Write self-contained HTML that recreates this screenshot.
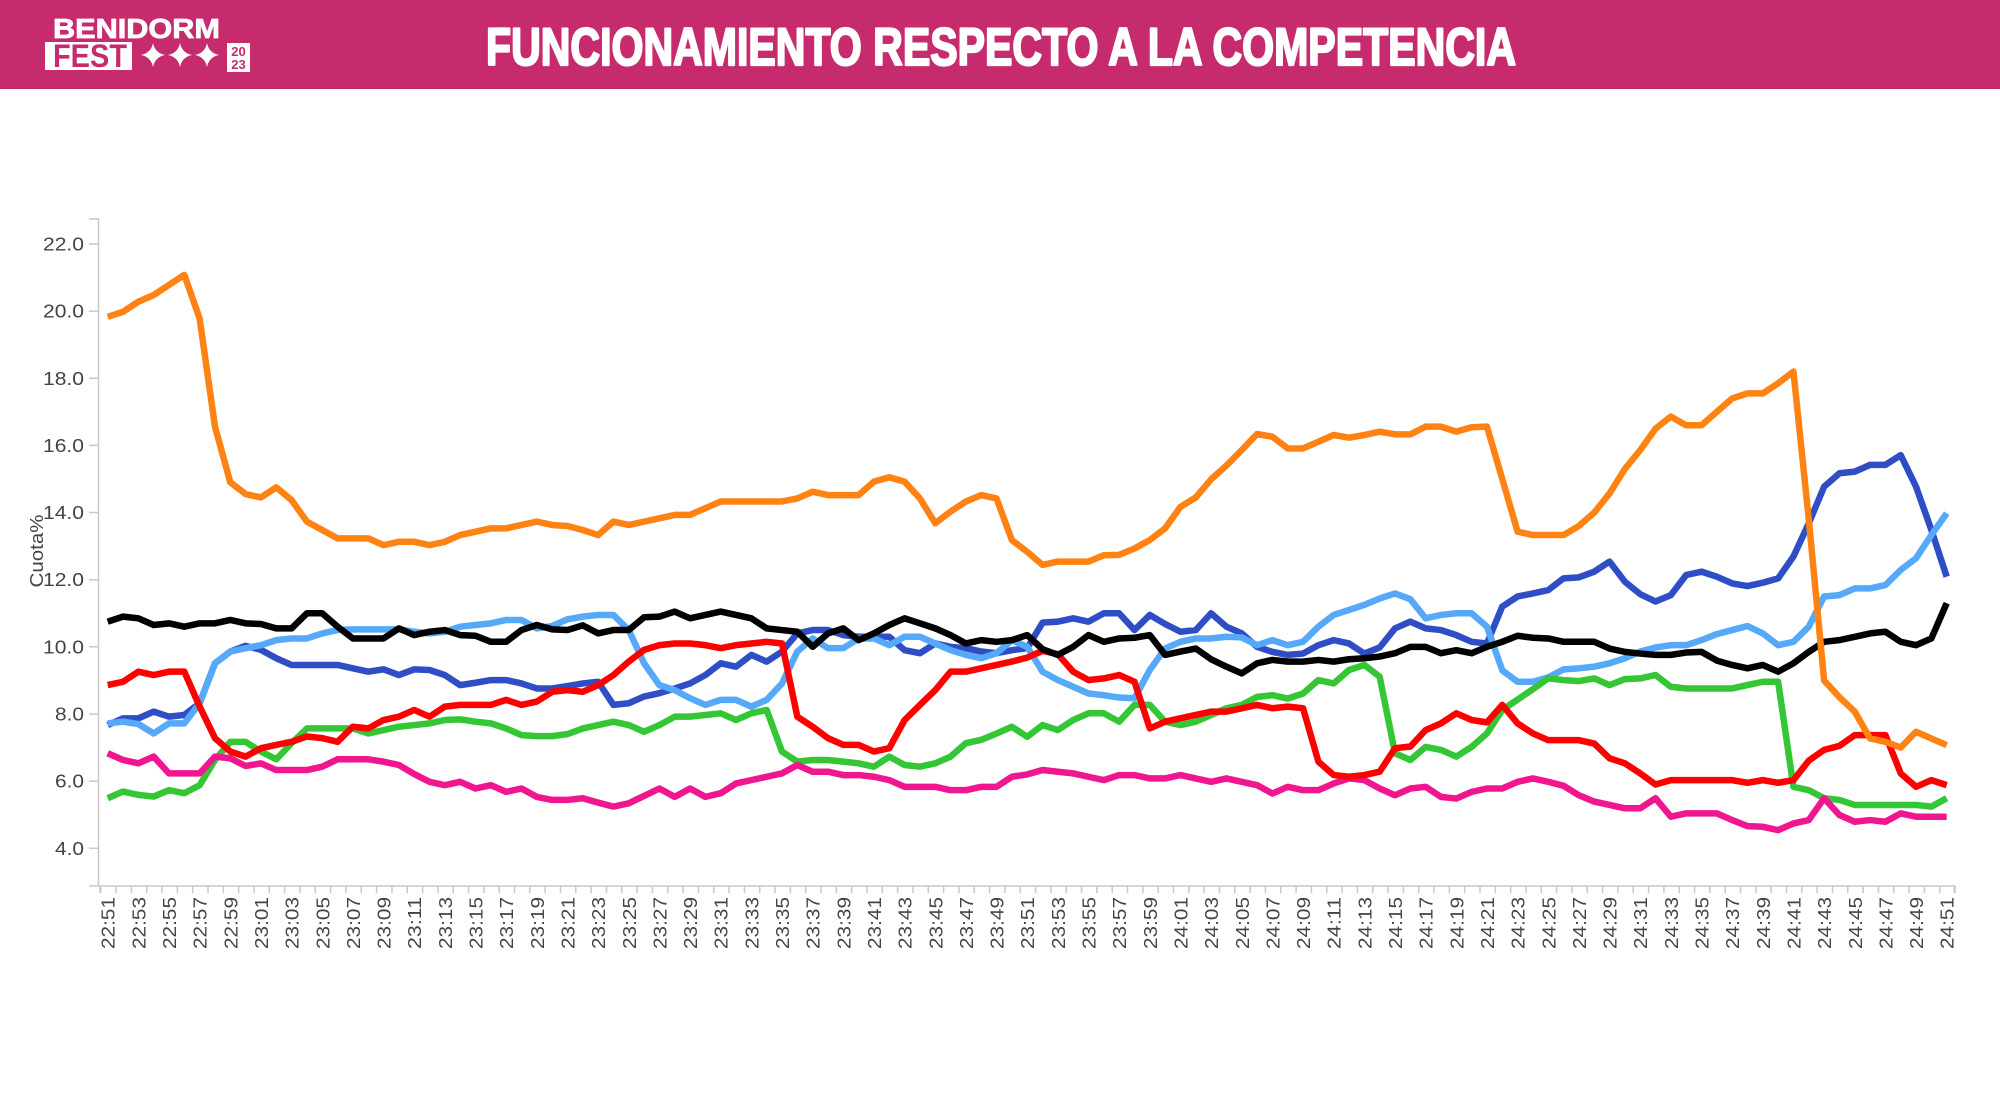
<!DOCTYPE html>
<html>
<head>
<meta charset="utf-8">
<style>
  html,body{margin:0;padding:0;background:#fff;}
  body{width:2000px;height:1100px;overflow:hidden;}
  svg{display:block;}
  .lab{font-family:"Liberation Sans",Arial,sans-serif;font-size:18px;fill:#444;}
  .ser{fill:none;stroke-width:6.5;stroke-linejoin:round;stroke-linecap:butt;}
</style>
</head>
<body>
<svg width="2000" height="1100" viewBox="0 0 2000 1100" xmlns="http://www.w3.org/2000/svg">
  <!-- Banner -->
  <rect x="0" y="0" width="2000" height="89" fill="#C62B6E"/>
  <!-- Logo -->
  <text x="53" y="38" fill="#fff" stroke="#fff" stroke-width="0.8" font-family="Liberation Sans, Arial, sans-serif" font-weight="bold" font-size="28" textLength="167" lengthAdjust="spacingAndGlyphs">BENIDORM</text>
  <rect x="45" y="42" width="87" height="28" fill="#fff"/>
  <text x="53" y="67" fill="#C62B6E" font-family="Liberation Sans, Arial, sans-serif" font-weight="bold" font-size="32" textLength="74" lengthAdjust="spacingAndGlyphs">FEST</text>
  <g fill="#fff">
    <path d="M153,43 Q155,53 165,55 Q155,57 153,67 Q151,57 141,55 Q151,53 153,43 Z"/>
    <path d="M180,43 Q182,53 192,55 Q182,57 180,67 Q178,57 168,55 Q178,53 180,43 Z"/>
    <path d="M207,43 Q209,53 219,55 Q209,57 207,67 Q205,57 195,55 Q205,53 207,43 Z"/>
  </g>
  <rect x="227" y="43" width="23" height="29" fill="#fff"/>
  <text x="238.5" y="56" text-anchor="middle" fill="#C62B6E" font-family="Liberation Sans, Arial, sans-serif" font-weight="bold" font-size="13">20</text>
  <text x="238.5" y="69" text-anchor="middle" fill="#C62B6E" font-family="Liberation Sans, Arial, sans-serif" font-weight="bold" font-size="13">23</text>
  <!-- Title -->
  <text x="486" y="65" fill="#fff" stroke="#fff" stroke-width="2.2" stroke-linejoin="round" font-family="Liberation Sans, Arial, sans-serif" font-weight="bold" font-size="53" textLength="1030" lengthAdjust="spacingAndGlyphs">FUNCIONAMIENTO RESPECTO A LA COMPETENCIA</text>

  <!-- Axes -->
  <g stroke="#C8C8C8" stroke-width="1.5" fill="none">
    <path d="M89,219 H98.5 V886 H89"/>
    <path d="M100,893 V886 H1954.3 V893"/>
    <path d="M89,244 H98.5 M89,311.1 H98.5 M89,378.3 H98.5 M89,445.4 H98.5 M89,512.5 H98.5 M89,579.7 H98.5 M89,646.8 H98.5 M89,714 H98.5 M89,781.1 H98.5 M89,848.3 H98.5"/>
    <path d="M100,889.5 H1956" stroke-width="7" stroke-dasharray="1.5 13.825"/>
  </g>

  <!-- Y labels -->
  <g class="lab" text-anchor="end">
    <text x="84" y="250.5" textLength="41" lengthAdjust="spacingAndGlyphs">22.0</text>
    <text x="84" y="317.6" textLength="41" lengthAdjust="spacingAndGlyphs">20.0</text>
    <text x="84" y="384.8" textLength="41" lengthAdjust="spacingAndGlyphs">18.0</text>
    <text x="84" y="451.9" textLength="41" lengthAdjust="spacingAndGlyphs">16.0</text>
    <text x="84" y="519" textLength="41" lengthAdjust="spacingAndGlyphs">14.0</text>
    <text x="84" y="586.2" textLength="41" lengthAdjust="spacingAndGlyphs">12.0</text>
    <text x="84" y="653.3" textLength="41" lengthAdjust="spacingAndGlyphs">10.0</text>
    <text x="84" y="720.5" textLength="29" lengthAdjust="spacingAndGlyphs">8.0</text>
    <text x="84" y="787.6" textLength="29" lengthAdjust="spacingAndGlyphs">6.0</text>
    <text x="84" y="854.8" textLength="29" lengthAdjust="spacingAndGlyphs">4.0</text>
  </g>
  <text class="lab" transform="translate(43,551) rotate(-90)" text-anchor="middle" textLength="73" lengthAdjust="spacingAndGlyphs">Cuota%</text>

  <!-- X labels -->
  <g class="lab" text-anchor="end">
    <text transform="translate(114.7,897) rotate(-90)" textLength="52" lengthAdjust="spacingAndGlyphs">22:51</text>
    <text transform="translate(145.35,897) rotate(-90)" textLength="52" lengthAdjust="spacingAndGlyphs">22:53</text>
    <text transform="translate(176,897) rotate(-90)" textLength="52" lengthAdjust="spacingAndGlyphs">22:55</text>
    <text transform="translate(206.65,897) rotate(-90)" textLength="52" lengthAdjust="spacingAndGlyphs">22:57</text>
    <text transform="translate(237.3,897) rotate(-90)" textLength="52" lengthAdjust="spacingAndGlyphs">22:59</text>
    <text transform="translate(267.95,897) rotate(-90)" textLength="52" lengthAdjust="spacingAndGlyphs">23:01</text>
    <text transform="translate(298.6,897) rotate(-90)" textLength="52" lengthAdjust="spacingAndGlyphs">23:03</text>
    <text transform="translate(329.25,897) rotate(-90)" textLength="52" lengthAdjust="spacingAndGlyphs">23:05</text>
    <text transform="translate(359.9,897) rotate(-90)" textLength="52" lengthAdjust="spacingAndGlyphs">23:07</text>
    <text transform="translate(390.55,897) rotate(-90)" textLength="52" lengthAdjust="spacingAndGlyphs">23:09</text>
    <text transform="translate(421.2,897) rotate(-90)" textLength="52" lengthAdjust="spacingAndGlyphs">23:11</text>
    <text transform="translate(451.85,897) rotate(-90)" textLength="52" lengthAdjust="spacingAndGlyphs">23:13</text>
    <text transform="translate(482.5,897) rotate(-90)" textLength="52" lengthAdjust="spacingAndGlyphs">23:15</text>
    <text transform="translate(513.15,897) rotate(-90)" textLength="52" lengthAdjust="spacingAndGlyphs">23:17</text>
    <text transform="translate(543.8,897) rotate(-90)" textLength="52" lengthAdjust="spacingAndGlyphs">23:19</text>
    <text transform="translate(574.45,897) rotate(-90)" textLength="52" lengthAdjust="spacingAndGlyphs">23:21</text>
    <text transform="translate(605.1,897) rotate(-90)" textLength="52" lengthAdjust="spacingAndGlyphs">23:23</text>
    <text transform="translate(635.75,897) rotate(-90)" textLength="52" lengthAdjust="spacingAndGlyphs">23:25</text>
    <text transform="translate(666.4,897) rotate(-90)" textLength="52" lengthAdjust="spacingAndGlyphs">23:27</text>
    <text transform="translate(697.05,897) rotate(-90)" textLength="52" lengthAdjust="spacingAndGlyphs">23:29</text>
    <text transform="translate(727.7,897) rotate(-90)" textLength="52" lengthAdjust="spacingAndGlyphs">23:31</text>
    <text transform="translate(758.35,897) rotate(-90)" textLength="52" lengthAdjust="spacingAndGlyphs">23:33</text>
    <text transform="translate(789,897) rotate(-90)" textLength="52" lengthAdjust="spacingAndGlyphs">23:35</text>
    <text transform="translate(819.65,897) rotate(-90)" textLength="52" lengthAdjust="spacingAndGlyphs">23:37</text>
    <text transform="translate(850.3,897) rotate(-90)" textLength="52" lengthAdjust="spacingAndGlyphs">23:39</text>
    <text transform="translate(880.95,897) rotate(-90)" textLength="52" lengthAdjust="spacingAndGlyphs">23:41</text>
    <text transform="translate(911.6,897) rotate(-90)" textLength="52" lengthAdjust="spacingAndGlyphs">23:43</text>
    <text transform="translate(942.25,897) rotate(-90)" textLength="52" lengthAdjust="spacingAndGlyphs">23:45</text>
    <text transform="translate(972.9,897) rotate(-90)" textLength="52" lengthAdjust="spacingAndGlyphs">23:47</text>
    <text transform="translate(1003.55,897) rotate(-90)" textLength="52" lengthAdjust="spacingAndGlyphs">23:49</text>
    <text transform="translate(1034.2,897) rotate(-90)" textLength="52" lengthAdjust="spacingAndGlyphs">23:51</text>
    <text transform="translate(1064.85,897) rotate(-90)" textLength="52" lengthAdjust="spacingAndGlyphs">23:53</text>
    <text transform="translate(1095.5,897) rotate(-90)" textLength="52" lengthAdjust="spacingAndGlyphs">23:55</text>
    <text transform="translate(1126.15,897) rotate(-90)" textLength="52" lengthAdjust="spacingAndGlyphs">23:57</text>
    <text transform="translate(1156.8,897) rotate(-90)" textLength="52" lengthAdjust="spacingAndGlyphs">23:59</text>
    <text transform="translate(1187.45,897) rotate(-90)" textLength="52" lengthAdjust="spacingAndGlyphs">24:01</text>
    <text transform="translate(1218.1,897) rotate(-90)" textLength="52" lengthAdjust="spacingAndGlyphs">24:03</text>
    <text transform="translate(1248.75,897) rotate(-90)" textLength="52" lengthAdjust="spacingAndGlyphs">24:05</text>
    <text transform="translate(1279.4,897) rotate(-90)" textLength="52" lengthAdjust="spacingAndGlyphs">24:07</text>
    <text transform="translate(1310.05,897) rotate(-90)" textLength="52" lengthAdjust="spacingAndGlyphs">24:09</text>
    <text transform="translate(1340.7,897) rotate(-90)" textLength="52" lengthAdjust="spacingAndGlyphs">24:11</text>
    <text transform="translate(1371.35,897) rotate(-90)" textLength="52" lengthAdjust="spacingAndGlyphs">24:13</text>
    <text transform="translate(1402,897) rotate(-90)" textLength="52" lengthAdjust="spacingAndGlyphs">24:15</text>
    <text transform="translate(1432.65,897) rotate(-90)" textLength="52" lengthAdjust="spacingAndGlyphs">24:17</text>
    <text transform="translate(1463.3,897) rotate(-90)" textLength="52" lengthAdjust="spacingAndGlyphs">24:19</text>
    <text transform="translate(1493.95,897) rotate(-90)" textLength="52" lengthAdjust="spacingAndGlyphs">24:21</text>
    <text transform="translate(1524.6,897) rotate(-90)" textLength="52" lengthAdjust="spacingAndGlyphs">24:23</text>
    <text transform="translate(1555.25,897) rotate(-90)" textLength="52" lengthAdjust="spacingAndGlyphs">24:25</text>
    <text transform="translate(1585.9,897) rotate(-90)" textLength="52" lengthAdjust="spacingAndGlyphs">24:27</text>
    <text transform="translate(1616.55,897) rotate(-90)" textLength="52" lengthAdjust="spacingAndGlyphs">24:29</text>
    <text transform="translate(1647.2,897) rotate(-90)" textLength="52" lengthAdjust="spacingAndGlyphs">24:31</text>
    <text transform="translate(1677.85,897) rotate(-90)" textLength="52" lengthAdjust="spacingAndGlyphs">24:33</text>
    <text transform="translate(1708.5,897) rotate(-90)" textLength="52" lengthAdjust="spacingAndGlyphs">24:35</text>
    <text transform="translate(1739.15,897) rotate(-90)" textLength="52" lengthAdjust="spacingAndGlyphs">24:37</text>
    <text transform="translate(1769.8,897) rotate(-90)" textLength="52" lengthAdjust="spacingAndGlyphs">24:39</text>
    <text transform="translate(1800.45,897) rotate(-90)" textLength="52" lengthAdjust="spacingAndGlyphs">24:41</text>
    <text transform="translate(1831.1,897) rotate(-90)" textLength="52" lengthAdjust="spacingAndGlyphs">24:43</text>
    <text transform="translate(1861.75,897) rotate(-90)" textLength="52" lengthAdjust="spacingAndGlyphs">24:45</text>
    <text transform="translate(1892.4,897) rotate(-90)" textLength="52" lengthAdjust="spacingAndGlyphs">24:47</text>
    <text transform="translate(1923.05,897) rotate(-90)" textLength="52" lengthAdjust="spacingAndGlyphs">24:49</text>
    <text transform="translate(1953.7,897) rotate(-90)" textLength="52" lengthAdjust="spacingAndGlyphs">24:51</text>
  </g>

  <!-- Series: data space (i, value) mapped to pixels -->
  <g transform="matrix(15.325 0 0 -33.57 107.7 982.54)">
    <!-- dark blue -->
    <polyline class="ser" vector-effect="non-scaling-stroke" stroke="#2F4EC6" points="0,7.67 1,7.87 2,7.87 3,8.07 4,7.92 5,7.97 6,8.32 7,9.51 8,9.86 9,10.03 10,9.91 11,9.66 12,9.46 13,9.46 14,9.46 15,9.46 16,9.36 17,9.26 18,9.33 19,9.16 20,9.33 21,9.31 22,9.16 23,8.86 24,8.93 25,9.01 26,9.01 27,8.91 28,8.76 29,8.76 30,8.83 31,8.91 32,8.96 33,8.27 34,8.32 35,8.52 36,8.62 37,8.76 38,8.91 39,9.16 40,9.51 41,9.41 42,9.76 43,9.56 44,9.86 45,10.4 46,10.5 47,10.5 48,10.35 49,10.3 50,10.3 51,10.3 52,9.9 53,9.81 54,10.1 55,10.0 56,9.96 57,9.86 58,9.81 59,9.9 60,9.96 61,10.72 62,10.75 63,10.85 64,10.75 65,11.0 66,11.0 67,10.5 68,10.95 69,10.68 70,10.45 71,10.5 72,11.0 73,10.6 74,10.4 75,10.0 76,9.85 77,9.76 78,9.8 79,10.05 80,10.2 81,10.1 82,9.8 83,9.98 84,10.55 85,10.75 86,10.55 87,10.5 88,10.35 89,10.15 90,10.1 91,11.2 92,11.5 93,11.59 94,11.69 95,12.04 96,12.07 97,12.24 98,12.54 99,11.94 100,11.57 101,11.35 102,11.54 103,12.14 104,12.24 105,12.09 106,11.89 107,11.81 108,11.91 109,12.04 110,12.69 111,13.68 112,14.77 113,15.17 114,15.22 115,15.42 116,15.42 117,15.71 118,14.77 119,13.48 120,12.09"/>
    <!-- light blue -->
    <polyline class="ser" vector-effect="non-scaling-stroke" stroke="#56A9F8" points="0,7.72 1,7.77 2,7.7 3,7.42 4,7.72 5,7.72 6,8.32 7,9.51 8,9.86 9,9.96 10,10.05 11,10.2 12,10.25 13,10.25 14,10.4 15,10.5 16,10.52 17,10.52 18,10.52 19,10.52 20,10.45 21,10.4 22,10.45 23,10.6 24,10.65 25,10.7 26,10.8 27,10.8 28,10.55 29,10.62 30,10.82 31,10.9 32,10.95 33,10.95 34,10.5 35,9.51 36,8.86 37,8.71 38,8.47 39,8.27 40,8.42 41,8.42 42,8.22 43,8.42 44,8.91 45,9.86 46,10.25 47,9.96 48,9.96 49,10.25 50,10.25 51,10.05 52,10.3 53,10.3 54,10.1 55,9.9 56,9.76 57,9.66 58,9.81 59,10.2 60,10.0 61,9.26 62,9.01 63,8.81 64,8.61 65,8.56 66,8.49 67,8.47 68,9.31 69,9.95 70,10.15 71,10.25 72,10.25 73,10.3 74,10.28 75,10.05 76,10.2 77,10.05 78,10.15 79,10.6 80,10.95 81,11.1 82,11.25 83,11.44 84,11.59 85,11.42 86,10.85 87,10.95 88,11.0 89,11.0 90,10.6 91,9.3 92,8.96 93,8.96 94,9.09 95,9.33 96,9.36 97,9.41 98,9.51 99,9.66 100,9.86 101,9.98 102,10.05 103,10.05 104,10.2 105,10.38 106,10.5 107,10.62 108,10.4 109,10.05 110,10.15 111,10.6 112,11.5 113,11.54 114,11.74 115,11.74 116,11.84 117,12.29 118,12.64 119,13.33 120,13.98"/>
    <!-- green -->
    <polyline class="ser" vector-effect="non-scaling-stroke" stroke="#35C636" points="0,5.49 1,5.69 2,5.59 3,5.54 4,5.73 5,5.64 6,5.88 7,6.63 8,7.17 9,7.17 10,6.88 11,6.65 12,7.13 13,7.57 14,7.57 15,7.57 16,7.57 17,7.42 18,7.52 19,7.62 20,7.67 21,7.72 22,7.82 23,7.84 24,7.77 25,7.72 26,7.57 27,7.37 28,7.34 29,7.34 30,7.4 31,7.57 32,7.67 33,7.77 34,7.67 35,7.47 36,7.67 37,7.92 38,7.92 39,7.97 40,8.02 41,7.82 42,8.02 43,8.12 44,6.88 45,6.58 46,6.63 47,6.63 48,6.58 49,6.53 50,6.43 51,6.73 52,6.48 53,6.43 54,6.53 55,6.73 56,7.13 57,7.23 58,7.42 59,7.62 60,7.32 61,7.67 62,7.52 63,7.82 64,8.02 65,8.02 66,7.77 67,8.27 68,8.27 69,7.77 70,7.67 71,7.77 72,7.97 73,8.17 74,8.27 75,8.51 76,8.56 77,8.46 78,8.61 79,9.01 80,8.91 81,9.31 82,9.46 83,9.11 84,6.83 85,6.63 86,7.02 87,6.93 88,6.73 89,7.02 90,7.42 91,8.12 92,8.43 93,8.74 94,9.06 95,9.01 96,8.98 97,9.06 98,8.86 99,9.04 100,9.06 101,9.16 102,8.81 103,8.76 104,8.76 105,8.76 106,8.76 107,8.86 108,8.96 109,8.96 110,5.83 111,5.73 112,5.49 113,5.44 114,5.29 115,5.29 116,5.29 117,5.29 118,5.29 119,5.24 120,5.49"/>
    <!-- pink -->
    <polyline class="ser" vector-effect="non-scaling-stroke" stroke="#F01690" points="0,6.83 1,6.63 2,6.53 3,6.73 4,6.23 5,6.23 6,6.23 7,6.73 8,6.68 9,6.45 10,6.53 11,6.33 12,6.33 13,6.33 14,6.43 15,6.65 16,6.65 17,6.65 18,6.58 19,6.48 20,6.21 21,5.98 22,5.88 23,5.98 24,5.78 25,5.88 26,5.68 27,5.78 28,5.53 29,5.44 30,5.44 31,5.49 32,5.36 33,5.24 34,5.34 35,5.56 36,5.78 37,5.53 38,5.78 39,5.53 40,5.64 41,5.93 42,6.03 43,6.13 44,6.23 45,6.48 46,6.28 47,6.28 48,6.18 49,6.18 50,6.13 51,6.03 52,5.83 53,5.83 54,5.83 55,5.73 56,5.73 57,5.83 58,5.83 59,6.13 60,6.2 61,6.33 62,6.28 63,6.23 64,6.13 65,6.03 66,6.18 67,6.18 68,6.08 69,6.08 70,6.18 71,6.08 72,5.98 73,6.08 74,5.98 75,5.88 76,5.63 77,5.83 78,5.73 79,5.73 80,5.93 81,6.08 82,6.03 83,5.78 84,5.58 85,5.78 86,5.83 87,5.53 88,5.48 89,5.68 90,5.78 91,5.78 92,5.98 93,6.08 94,5.98 95,5.86 96,5.58 97,5.39 98,5.29 99,5.19 100,5.19 101,5.49 102,4.94 103,5.04 104,5.04 105,5.04 106,4.84 107,4.66 108,4.64 109,4.54 110,4.74 111,4.84 112,5.49 113,4.99 114,4.79 115,4.84 116,4.79 117,5.04 118,4.94 119,4.94 120,4.94"/>
    <!-- red -->
    <polyline class="ser" vector-effect="non-scaling-stroke" stroke="#FF0000" points="0,8.86 1,8.96 2,9.26 3,9.16 4,9.26 5,9.26 6,8.22 7,7.28 8,6.88 9,6.73 10,6.98 11,7.08 12,7.17 13,7.33 14,7.28 15,7.17 16,7.62 17,7.57 18,7.82 19,7.92 20,8.12 21,7.92 22,8.22 23,8.27 24,8.27 25,8.27 26,8.42 27,8.27 28,8.37 29,8.66 30,8.71 31,8.66 32,8.86 33,9.16 34,9.56 35,9.91 36,10.05 37,10.1 38,10.1 39,10.05 40,9.96 41,10.05 42,10.1 43,10.15 44,10.1 45,7.92 46,7.62 47,7.28 48,7.08 49,7.08 50,6.88 51,6.98 52,7.82 53,8.27 54,8.71 55,9.26 56,9.26 57,9.36 58,9.46 59,9.56 60,9.68 61,9.88 62,9.78 63,9.26 64,9.01 65,9.06 66,9.16 67,8.96 68,7.57 69,7.77 70,7.87 71,7.97 72,8.07 73,8.07 74,8.17 75,8.27 76,8.17 77,8.22 78,8.17 79,6.58 80,6.18 81,6.13 82,6.18 83,6.28 84,6.98 85,7.03 86,7.52 87,7.72 88,8.02 89,7.82 90,7.75 91,8.27 92,7.72 93,7.42 94,7.22 95,7.22 96,7.22 97,7.12 98,6.68 99,6.53 100,6.23 101,5.9 102,6.03 103,6.03 104,6.03 105,6.03 106,6.03 107,5.95 108,6.03 109,5.95 110,6.03 111,6.61 112,6.93 113,7.05 114,7.37 115,7.37 116,7.37 117,6.23 118,5.83 119,6.03 120,5.88"/>
    <!-- black -->
    <polyline class="ser" vector-effect="non-scaling-stroke" stroke="#000000" points="0,10.75 1,10.9 2,10.85 3,10.65 4,10.7 5,10.6 6,10.7 7,10.7 8,10.8 9,10.7 10,10.68 11,10.55 12,10.55 13,11.0 14,11.0 15,10.6 16,10.25 17,10.25 18,10.25 19,10.55 20,10.35 21,10.45 22,10.5 23,10.35 24,10.33 25,10.15 26,10.15 27,10.5 28,10.65 29,10.52 30,10.5 31,10.64 32,10.4 33,10.5 34,10.5 35,10.88 36,10.9 37,11.05 38,10.85 39,10.95 40,11.05 41,10.95 42,10.85 43,10.55 44,10.5 45,10.45 46,10.0 47,10.4 48,10.55 49,10.2 50,10.4 51,10.65 52,10.85 53,10.7 54,10.55 55,10.35 56,10.1 57,10.2 58,10.15 59,10.2 60,10.35 61,9.93 62,9.76 63,10.0 64,10.35 65,10.15 66,10.25 67,10.27 68,10.35 69,9.76 70,9.86 71,9.95 72,9.63 73,9.41 74,9.21 75,9.51 76,9.61 77,9.56 78,9.56 79,9.61 80,9.56 81,9.63 82,9.66 83,9.71 84,9.81 85,10.0 86,10.0 87,9.81 88,9.9 89,9.81 90,10.0 91,10.15 92,10.33 93,10.27 94,10.25 95,10.15 96,10.15 97,10.15 98,9.95 99,9.85 100,9.8 101,9.76 102,9.76 103,9.83 104,9.85 105,9.59 106,9.46 107,9.36 108,9.46 109,9.26 110,9.51 111,9.85 112,10.15 113,10.2 114,10.3 115,10.4 116,10.45 117,10.15 118,10.05 119,10.25 120,11.3"/>
    <!-- orange -->
    <polyline class="ser" vector-effect="non-scaling-stroke" stroke="#FF8213" points="0,19.83 1,19.98 2,20.28 3,20.48 4,20.78 5,21.08 6,19.78 7,16.56 8,14.9 9,14.55 10,14.45 11,14.75 12,14.37 13,13.73 14,13.48 15,13.23 16,13.23 17,13.23 18,13.03 19,13.13 20,13.13 21,13.03 22,13.13 23,13.33 24,13.43 25,13.53 26,13.53 27,13.63 28,13.73 29,13.63 30,13.6 31,13.48 32,13.33 33,13.73 34,13.63 35,13.73 36,13.83 37,13.93 38,13.93 39,14.13 40,14.33 41,14.33 42,14.33 43,14.33 44,14.33 45,14.42 46,14.62 47,14.52 48,14.52 49,14.52 50,14.92 51,15.05 52,14.92 53,14.42 54,13.68 55,14.03 56,14.33 57,14.52 58,14.42 59,13.18 60,12.83 61,12.44 62,12.54 63,12.54 64,12.54 65,12.73 66,12.74 67,12.93 68,13.18 69,13.53 70,14.17 71,14.45 72,14.99 73,15.4 74,15.86 75,16.34 76,16.26 77,15.91 78,15.91 79,16.11 80,16.31 81,16.23 82,16.31 83,16.41 84,16.33 85,16.33 86,16.56 87,16.56 88,16.41 89,16.54 90,16.56 91,15.0 92,13.43 93,13.33 94,13.33 95,13.33 96,13.6 97,14.0 98,14.57 99,15.3 100,15.86 101,16.5 102,16.86 103,16.6 104,16.6 105,17.0 106,17.4 107,17.55 108,17.55 109,17.85 110,18.2 111,13.8 112,9.0 113,8.5 114,8.07 115,7.27 116,7.17 117,7.0 118,7.47 119,7.27 120,7.07"/>
  </g>
</svg>
</body>
</html>
